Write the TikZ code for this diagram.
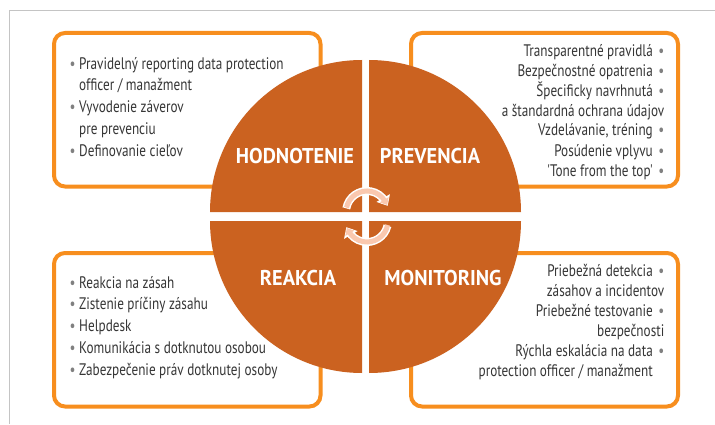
\documentclass[tikz,border=0pt]{standalone}
\usepackage{fontspec}
\usetikzlibrary{arrows.meta}
\newfontfamily\bodyfont[FakeStretch=0.79,Ligatures=TeXOff]{PT Sans}
\newfontfamily\headfont[FakeStretch=0.95]{PT Sans}
\definecolor{quadorange}{HTML}{CB6220}
\definecolor{boxorange}{HTML}{F78E1E}
\definecolor{peach}{HTML}{FAC8AF}
\definecolor{rulegray}{HTML}{C4C4C4}
\definecolor{dotgray}{HTML}{808080}
\definecolor{textgray}{HTML}{363636}
\newcommand{\bl}{\makebox[9.5pt][l]{\textcolor{dotgray}{•}}}
\newcommand{\br}{\makebox[11.5pt][r]{\textcolor{dotgray}{•}}}
\newcommand{\gapl}{\hspace*{9.5pt}}
\newcommand{\gapr}{\hspace*{11.5pt}}
\begin{document}
\begin{tikzpicture}[x=1pt, y=1pt,
    box/.style={draw=boxorange, line width=4pt, rounded corners=11pt, fill=white},
    quadrant/.style={fill=quadorange},
    items/.style={text=textgray, inner sep=0pt,
      font=\bodyfont\fontsize{16.7}{#1}\selectfont},
    title/.style={text=white, inner sep=0pt,
      font=\headfont\bfseries\fontsize{21.4}{24}\selectfont}]
\useasboundingbox (0,0) rectangle (715,424);
% Ramik
\draw[rulegray, line width=1pt] (9,0) -- (9,413) -- (715,413);
% Boxy
\draw[box] (54,237.5) rectangle (320.5,391);
\draw[box] (411,237.5) rectangle (678,391);
\draw[box] (54,17.5) rectangle (320.5,171);
\draw[box] (411,17.5) rectangle (678,171);
% Kruh
\fill[quadrant] (362,212) -- (210,212) arc[start angle=180, end angle=90, radius=152] -- cycle;
\fill[quadrant] (369,212) -- (369,364) arc[start angle=90, end angle=0, radius=152] -- cycle;
\fill[quadrant] (362,203) -- (210,203) arc[start angle=180, end angle=270, radius=152] -- cycle;
\fill[quadrant] (369,203) -- (521,203) arc[start angle=0, end angle=-90, radius=152] -- cycle;
% Nazvy
\node[title] (hodnotenie) at (295,268) {HODNOTENIE};
\node[title] (prevencia) at (430,268) {PREVENCIA};
\node[title] (reakcia) at (298,146) {REAKCIA};
\node[title] (monitoring) at (443,146) {MONITORING};
% Sipky
\draw[white, line width=8pt, -{Triangle[length=9pt, width=15pt]}]
  (367,212) ++(170:21) arc[start angle=170, end angle=30, radius=21] -- ++(-60:5);
\draw[white, line width=8pt, -{Triangle[length=9pt, width=15pt]}]
  (367,203) ++(-13:21) arc[start angle=-13, end angle=-150, radius=21] -- ++(120:5);
\draw[peach, line width=5pt, -{Triangle[length=6pt, width=10pt]}]
  (367,212) ++(168:21) arc[start angle=168, end angle=30, radius=21] -- ++(-60:4);
\draw[peach, line width=5pt, -{Triangle[length=6pt, width=10pt]}]
  (367,203) ++(-11:21) arc[start angle=-11, end angle=-150, radius=21] -- ++(120:4);
% Texty
\node[items=21.75, anchor=base west, align=left] (hodnotenieText) at (69.5,268) {%
  \bl Pravidelný reporting data protection\\
  \gapl officer / manažment\\
  \bl Vyvodenie záverov\\
  \gapl pre prevenciu\\
  \bl Definovanie cieľov};
\node[items=20, anchor=base east, align=right] (prevenciaText) at (664.5,248) {%
  Transparentné pravidlá\br\\
  Bezpečnostné opatrenia\br\\
  Špecificky navrhnutá\br\\
  a štandardná ochrana údajov\gapr\\
  Vzdelávanie, tréning\br\\
  Posúdenie vplyvu\br\\
  'Tone from the top'\br};
\node[items=21.75, anchor=base west, align=left] (reakciaText) at (69.5,49) {%
  \bl Reakcia na zásah\\
  \bl Zistenie príčiny zásahu\\
  \bl Helpdesk\\
  \bl Komunikácia s dotknutou osobou\\
  \bl Zabezpečenie práv dotknutej osoby};
\node[items=20, anchor=base east, align=right] (monitoringText) at (664.5,48) {%
  Priebežná detekcia\br\\
  zásahov a incidentov\gapr\\
  Priebežné testovanie\br\\
  bezpečnosti\gapr\\
  Rýchla eskalácia na data\br\\
  protection officer / manažment\gapr};
\end{tikzpicture}
\end{document}
